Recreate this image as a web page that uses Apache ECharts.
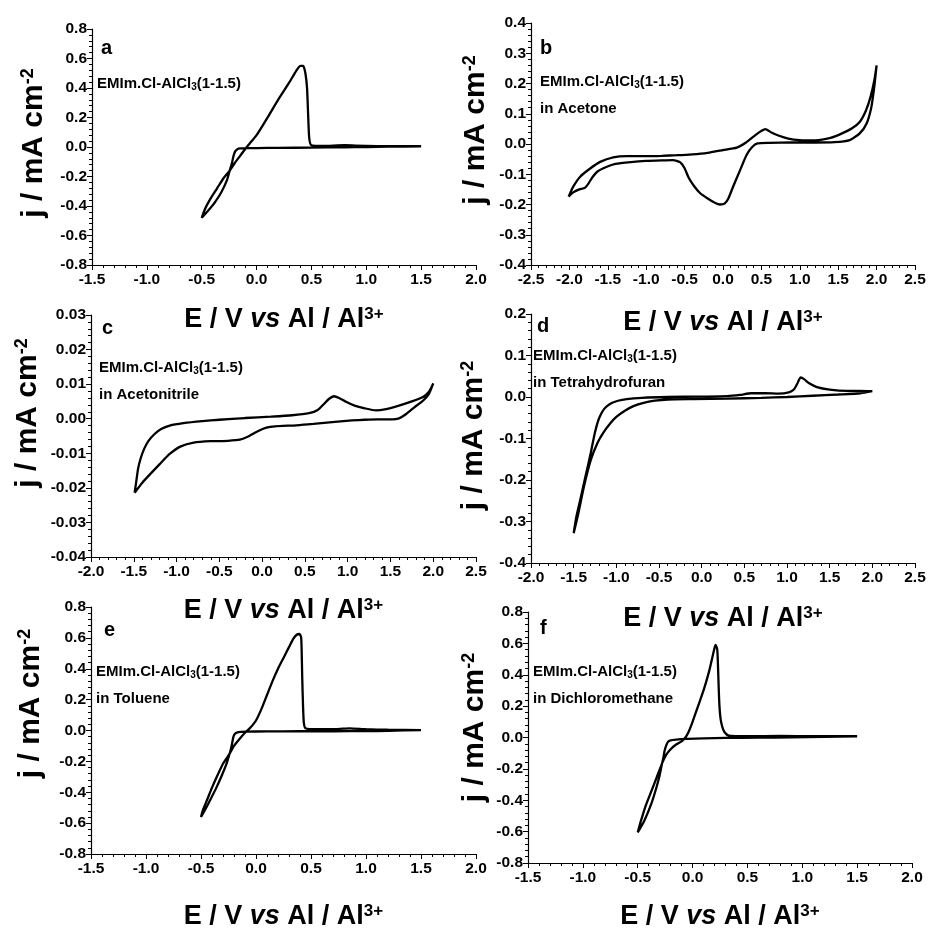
<!DOCTYPE html>
<html>
<head>
<meta charset="utf-8">
<script src="https://cdn.jsdelivr.net/npm/echarts@6/dist/echarts.min.js"></script>
<style>
  html, body { margin: 0; padding: 0; background: #fff; }
  #main { width: 929px; height: 931px; }
</style>
</head>
<body>
<div id="main"></div>
<script>
// cyclic voltammograms, [E (V vs Al/Al3+), j (mA cm-2)]
const cvA = [
  [1.5, 0.004], [1.2, 0.002], [1.0, 0.0], [0.8, -0.002], [0.5, -0.004], [0.2, -0.006], [0.0, -0.007],
  [-0.1, -0.008], [-0.15, -0.01], [-0.175, -0.015], [-0.195, -0.03], [-0.21, -0.06], [-0.225, -0.11],
  [-0.245, -0.16], [-0.27, -0.225], [-0.32, -0.305], [-0.38, -0.375], [-0.44, -0.43], [-0.5, -0.48],
  [-0.47, -0.42], [-0.42, -0.35], [-0.36, -0.28], [-0.3, -0.21], [-0.245, -0.16], [-0.2, -0.11],
  [-0.15, -0.06], [-0.1, -0.01], [-0.05, 0.035], [0.0, 0.08], [0.1, 0.2], [0.2, 0.325], [0.3, 0.44],
  [0.36, 0.515], [0.4, 0.55], [0.425, 0.55], [0.445, 0.5], [0.46, 0.4], [0.47, 0.22], [0.48, 0.06],
  [0.5, 0.012], [0.6, 0.008], [0.8, 0.012], [0.9, 0.01], [1.1, 0.006], [1.5, 0.005]
];
const cvB = [
  [-2.01, -0.174], [-1.95, -0.141], [-1.86, -0.108], [-1.73, -0.081], [-1.6, -0.059], [-1.43, -0.044],
  [-1.25, -0.04], [-1.0, -0.04], [-0.8, -0.039], [-0.6, -0.037], [-0.4, -0.034], [-0.2, -0.029],
  [-0.1, -0.024], [0.0, -0.02], [0.18, -0.012], [0.3, 0.005], [0.4, 0.025], [0.48, 0.04], [0.55, 0.049],
  [0.63, 0.038], [0.72, 0.028], [0.85, 0.018], [1.0, 0.013], [1.2, 0.012], [1.4, 0.02], [1.55, 0.035],
  [1.68, 0.052], [1.78, 0.073], [1.86, 0.11], [1.92, 0.155], [1.97, 0.21], [2.0, 0.26],
  [1.97, 0.19], [1.93, 0.12], [1.87, 0.068], [1.78, 0.035], [1.65, 0.013], [1.45, 0.006], [1.2, 0.005],
  [0.9, 0.005], [0.6, 0.004], [0.45, 0.002], [0.38, -0.01], [0.31, -0.035], [0.22, -0.088], [0.13, -0.142],
  [0.07, -0.18], [0.02, -0.197], [-0.04, -0.2], [-0.1, -0.195], [-0.2, -0.18], [-0.3, -0.162],
  [-0.38, -0.138], [-0.45, -0.11], [-0.5, -0.08], [-0.56, -0.06], [-0.65, -0.053], [-0.8, -0.054],
  [-1.0, -0.056], [-1.2, -0.06], [-1.4, -0.066], [-1.52, -0.076], [-1.63, -0.09], [-1.7, -0.11],
  [-1.75, -0.13], [-1.8, -0.145], [-1.87, -0.15], [-1.95, -0.16], [-2.01, -0.174]
];
const cvC = [
  [-1.49, -0.0214], [-1.47, -0.018], [-1.45, -0.0145], [-1.42, -0.0115], [-1.38, -0.0088], [-1.33, -0.0065],
  [-1.26, -0.0045], [-1.18, -0.003], [-1.08, -0.002], [-0.92, -0.0013], [-0.7, -0.0007], [-0.5, -0.0003],
  [-0.2, 0.0002], [0.1, 0.0006], [0.35, 0.001], [0.55, 0.0016], [0.65, 0.0025], [0.72, 0.0042],
  [0.78, 0.0057], [0.84, 0.0065], [0.9, 0.006], [0.98, 0.0049], [1.08, 0.0038], [1.2, 0.003],
  [1.33, 0.0024], [1.45, 0.0028], [1.6, 0.0038], [1.75, 0.005], [1.88, 0.0063], [1.95, 0.0078], [2.0, 0.0102],
  [1.95, 0.0072], [1.88, 0.0052], [1.78, 0.0033], [1.68, 0.0013], [1.6, 0.0001], [1.52, -0.0002],
  [1.35, -0.0002], [1.2, -0.0003], [1.05, -0.0005], [0.85, -0.0009], [0.6, -0.0015], [0.4, -0.0019],
  [0.15, -0.0022], [0.05, -0.0026], [-0.05, -0.0036], [-0.15, -0.005], [-0.25, -0.006], [-0.4, -0.0064],
  [-0.6, -0.0065], [-0.8, -0.0069], [-0.95, -0.008], [-1.08, -0.0102], [-1.2, -0.0132], [-1.3, -0.0158],
  [-1.4, -0.0185], [-1.49, -0.0214]
];
const cvD = [
  [2.0, 0.014], [1.86, 0.009], [1.6, 0.006], [1.3, 0.003], [1.0, 0.0], [0.7, -0.002], [0.3, -0.004],
  [-0.1, -0.005], [-0.4, -0.006], [-0.55, -0.009], [-0.68, -0.014], [-0.8, -0.022], [-0.9, -0.033],
  [-1.0, -0.048], [-1.07, -0.063], [-1.15, -0.085], [-1.22, -0.11], [-1.3, -0.152], [-1.38, -0.216],
  [-1.45, -0.285], [-1.5, -0.328],
  [-1.47, -0.29], [-1.42, -0.245], [-1.36, -0.19], [-1.3, -0.135], [-1.25, -0.085], [-1.2, -0.05],
  [-1.14, -0.028], [-1.07, -0.016], [-0.98, -0.009], [-0.88, -0.005], [-0.7, -0.002], [-0.4, 0.0],
  [0.0, 0.001], [0.3, 0.002], [0.45, 0.005], [0.58, 0.009], [0.75, 0.009], [0.9, 0.008], [1.02, 0.011],
  [1.08, 0.018], [1.12, 0.032], [1.16, 0.047], [1.2, 0.043], [1.26, 0.033], [1.35, 0.024], [1.5, 0.018],
  [1.7, 0.015], [1.85, 0.015], [2.0, 0.014]
];
const cvE = [
  [1.5, 0.003], [1.2, -0.002], [1.0, -0.004], [0.7, -0.005], [0.4, -0.005], [0.1, -0.006], [-0.1, -0.007],
  [-0.16, -0.01], [-0.19, -0.02], [-0.205, -0.04], [-0.215, -0.075], [-0.228, -0.12], [-0.24, -0.15],
  [-0.27, -0.22], [-0.31, -0.29], [-0.36, -0.37], [-0.42, -0.455], [-0.46, -0.51], [-0.5, -0.56],
  [-0.48, -0.51], [-0.445, -0.45], [-0.4, -0.37], [-0.35, -0.29], [-0.3, -0.215], [-0.24, -0.15],
  [-0.2, -0.1], [-0.15, -0.055], [-0.1, -0.015], [-0.05, 0.02], [0.0, 0.065], [0.05, 0.14], [0.1, 0.23],
  [0.15, 0.32], [0.2, 0.4], [0.25, 0.47], [0.3, 0.54], [0.34, 0.595], [0.37, 0.62], [0.395, 0.625],
  [0.41, 0.605], [0.415, 0.52], [0.42, 0.35], [0.428, 0.15], [0.435, 0.05], [0.45, 0.015], [0.55, 0.008],
  [0.75, 0.01], [0.85, 0.014], [1.0, 0.008], [1.2, 0.005], [1.5, 0.003]
];
const cvF = [
  [1.5, 0.008], [1.2, 0.004], [0.9, 0.001], [0.6, -0.001], [0.3, -0.003], [0.1, -0.006], [-0.05, -0.009],
  [-0.15, -0.013], [-0.2, -0.018], [-0.225, -0.028], [-0.24, -0.05], [-0.255, -0.085], [-0.265, -0.125],
  [-0.278, -0.165], [-0.3, -0.24], [-0.33, -0.32], [-0.38, -0.43], [-0.44, -0.53], [-0.5, -0.605],
  [-0.47, -0.53], [-0.43, -0.44], [-0.38, -0.35], [-0.33, -0.26], [-0.278, -0.165], [-0.24, -0.11],
  [-0.2, -0.075], [-0.15, -0.045], [-0.1, -0.025], [-0.07, -0.005], [-0.04, 0.03], [0.0, 0.1], [0.05, 0.2],
  [0.1, 0.3], [0.15, 0.42], [0.18, 0.51], [0.2, 0.57], [0.21, 0.59], [0.225, 0.56], [0.232, 0.45],
  [0.238, 0.32], [0.245, 0.2], [0.255, 0.12], [0.27, 0.07], [0.29, 0.035], [0.33, 0.012], [0.5, 0.008],
  [0.8, 0.01], [1.1, 0.008], [1.5, 0.008]
];

// axis ranges [min, max, interval]
const xRangeA = [-1.5, 2.0, 0.5], yRangeA = [-0.8, 0.8, 0.2];
const xRangeB = [-2.5, 2.5, 0.5], yRangeB = [-0.4, 0.4, 0.1];
const xRangeC = [-2.0, 2.5, 0.5], yRangeC = [-0.04, 0.03, 0.01];
const xRangeD = [-2.0, 2.5, 0.5], yRangeD = [-0.4, 0.2, 0.1];
const xRangeE = [-1.5, 2.0, 0.5], yRangeE = [-0.8, 0.8, 0.2];
const xRangeF = [-1.5, 2.0, 0.5], yRangeF = [-0.8, 0.8, 0.2];

const panelLetters = ['a', 'b', 'c', 'd', 'e', 'f'];
const solvents = ['', 'in Acetone', 'in Acetonitrile', 'in Tetrahydrofuran', 'in Toluene', 'in Dichloromethane'];

const FONT = '"Liberation Sans", Arial, Helvetica, sans-serif';

// yUp: how far the y title sits above the middle of its axis
const panels = [
  { data: cvA, xr: xRangeA, yr: yRangeA, dec: 1, grid: { left: 92, top: 29, width: 384, height: 236 }, xGap: 41, yGap: 43, yUp: 4,
    letter: [101, 48], txt: [97, 84] },
  { data: cvB, xr: xRangeB, yr: yRangeB, dec: 1, grid: { left: 531, top: 23, width: 384, height: 242 }, xGap: 44, yGap: 40, yUp: 14,
    letter: [540, 48], txt: [540, 82] },
  { data: cvC, xr: xRangeC, yr: yRangeC, dec: 2, grid: { left: 91, top: 315, width: 385, height: 242 }, xGap: 40, yGap: 48, yUp: 23,
    letter: [102, 328], txt: [99, 368] },
  { data: cvD, xr: xRangeD, yr: yRangeD, dec: 1, grid: { left: 531, top: 314, width: 384, height: 249 }, xGap: 42, yGap: 42, yUp: 3,
    letter: [537, 326], txt: [533, 356] },
  { data: cvE, xr: xRangeE, yr: yRangeE, dec: 1, grid: { left: 91, top: 607, width: 385, height: 251 }, xGap: 49, yGap: 45, yUp: 27,
    letter: [104, 630], txt: [96, 672] },
  { data: cvF, xr: xRangeF, yr: yRangeF, dec: 1, grid: { left: 528, top: 612, width: 384, height: 251 }, xGap: 40, yGap: 38, yUp: 10,
    letter: [540, 628], txt: [533, 672] }
];

const titleRich = {
  t: { fontSize: 27, fontWeight: 'bold', fontFamily: FONT, color: '#000' },
  i: { fontSize: 27, fontWeight: 'bold', fontStyle: 'italic', fontFamily: FONT, color: '#000' },
  s: { fontSize: 17, fontWeight: 'bold', fontFamily: FONT, color: '#000', verticalAlign: 'top' }
};
const yTitleRich = {
  t: { fontSize: 30, fontWeight: 'bold', fontFamily: FONT, color: '#000' },
  s: { fontSize: 18, fontWeight: 'bold', fontFamily: FONT, color: '#000', verticalAlign: 'top' }
};

function axisCommon(dec) {
  return {
    axisLine: { show: true, onZero: false, lineStyle: { color: '#000', width: 1.2 } },
    axisTick: { show: true, length: 5, lineStyle: { color: '#000', width: 1 } },
    minorTick: { show: true, splitNumber: 5, length: 3, lineStyle: { color: '#000', width: 1 } },
    splitLine: { show: false },
    minorSplitLine: { show: false },
    axisLabel: {
      color: '#000', fontWeight: 'bold', fontSize: 15.5, fontFamily: FONT,
      showMinLabel: true, showMaxLabel: true,
      formatter: (v) => v.toFixed(dec)
    }
  };
}

const grids = [], xAxes = [], yAxes = [], series = [], graphics = [];

panels.forEach((p, i) => {
  grids.push(Object.assign({ containLabel: false }, p.grid));
  xAxes.push(Object.assign(axisCommon(1), {
    gridIndex: i, type: 'value', min: p.xr[0], max: p.xr[1], interval: p.xr[2],
    name: '{t|E / V }{i|vs}{t| Al / Al}{s|3+}',
    nameLocation: 'middle', nameGap: p.xGap,
    nameTextStyle: { rich: titleRich }
  }));
  xAxes[i].axisLabel.margin = 7;
  yAxes.push(Object.assign(axisCommon(p.dec), {
    gridIndex: i, type: 'value', min: p.yr[0], max: p.yr[1], interval: p.yr[2],
    name: '{t|j / mA cm}{s|-2}',
    nameLocation: 'middle', nameGap: p.yGap,
    nameTextStyle: { rich: yTitleRich, padding: [0, 0, 0, 2 * p.yUp] }
  }));
  yAxes[i].axisLabel.margin = 5;
  series.push({
    type: 'line', xAxisIndex: i, yAxisIndex: i, data: p.data,
    showSymbol: false, symbol: 'none', smooth: 0.2,
    lineStyle: { color: '#000', width: 2.3 },
    animation: false
  });

  graphics.push({
    type: 'text', x: p.letter[0], y: p.letter[1],
    style: { text: panelLetters[i], font: 'bold 20px ' + FONT, fill: '#000', verticalAlign: 'middle' }
  });
  graphics.push({
    type: 'text', x: p.txt[0], y: p.txt[1],
    style: {
      text: '{t|EMIm.Cl-AlCl}{s|3}{t|(1-1.5)}',
      verticalAlign: 'middle',
      rich: {
        t: { fontSize: 15, fontWeight: 'bold', fontFamily: FONT, fill: '#000' },
        s: { fontSize: 10, fontWeight: 'bold', fontFamily: FONT, fill: '#000', verticalAlign: 'top', padding: [7, 0, 0, 0] }
      }
    }
  });
  if (solvents[i]) {
    graphics.push({
      type: 'text', x: p.txt[0], y: p.txt[1] + 27,
      style: { text: solvents[i], font: 'bold 15px ' + FONT, fill: '#000', verticalAlign: 'middle' }
    });
  }
});

const chart = echarts.init(document.getElementById('main'));
chart.setOption({
  backgroundColor: '#fff',
  animation: false,
  grid: grids,
  xAxis: xAxes,
  yAxis: yAxes,
  series: series,
  graphic: graphics
});
</script>
</body>
</html>
